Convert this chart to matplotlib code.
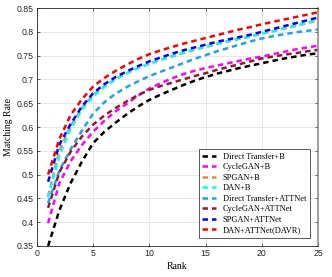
import numpy as np
import matplotlib
matplotlib.use("Agg")
from matplotlib import pyplot as plt

rank = np.arange(1, 26)

direct_b = [0.350, 0.425, 0.482, 0.527, 0.566, 0.590, 0.609, 0.627, 0.643, 0.657,
            0.668, 0.678, 0.688, 0.697, 0.705, 0.712, 0.718, 0.724, 0.729, 0.734,
            0.739, 0.744, 0.748, 0.752, 0.755]
cyclegan_b = [0.398, 0.482, 0.528, 0.562, 0.590, 0.613, 0.633, 0.649, 0.666, 0.681,
              0.692, 0.702, 0.711, 0.718, 0.724, 0.729, 0.734, 0.739, 0.744, 0.748,
              0.753, 0.758, 0.763, 0.767, 0.771]
spgan_b = [0.455, 0.550, 0.602, 0.640, 0.667, 0.686, 0.701, 0.713, 0.724, 0.733,
           0.741, 0.748, 0.755, 0.762, 0.768, 0.774, 0.780, 0.785, 0.790, 0.796,
           0.801, 0.807, 0.812, 0.818, 0.824]
dan_b = [0.452, 0.540, 0.596, 0.636, 0.664, 0.684, 0.700, 0.713, 0.724, 0.733,
         0.741, 0.749, 0.756, 0.763, 0.769, 0.775, 0.781, 0.786, 0.791, 0.797,
         0.802, 0.808, 0.813, 0.819, 0.825]
direct_att = [0.440, 0.508, 0.553, 0.592, 0.628, 0.652, 0.670, 0.684, 0.696, 0.707,
              0.716, 0.725, 0.734, 0.743, 0.751, 0.759, 0.766, 0.773, 0.780, 0.786,
              0.791, 0.795, 0.799, 0.802, 0.805]
cyclegan_att = [0.430, 0.505, 0.548, 0.580, 0.605, 0.624, 0.640, 0.654, 0.667, 0.678,
                0.686, 0.693, 0.700, 0.707, 0.713, 0.720, 0.726, 0.732, 0.738, 0.744,
                0.748, 0.752, 0.755, 0.759, 0.762]
spgan_att = [0.485, 0.563, 0.606, 0.643, 0.671, 0.690, 0.705, 0.717, 0.728, 0.738,
             0.746, 0.754, 0.761, 0.767, 0.773, 0.779, 0.784, 0.789, 0.794, 0.800,
             0.806, 0.812, 0.818, 0.824, 0.830]
davr = [0.500, 0.575, 0.625, 0.658, 0.685, 0.703, 0.718, 0.731, 0.743, 0.753,
        0.761, 0.768, 0.775, 0.781, 0.787, 0.793, 0.799, 0.805, 0.810, 0.816,
        0.821, 0.826, 0.831, 0.836, 0.841]

labels = ["Direct Transfer+B", "CycleGAN+B", "SPGAN+B", "DAN+B",
          "Direct Transfer+ATTNet", "CycleGAN+ATTNet", "SPGAN+ATTNet",
          "DAN+ATTNet(DAVR)"]
series = [direct_b, cyclegan_b, spgan_b, dan_b, direct_att, cyclegan_att,
          spgan_att, davr]
colors = ["#000000", "#ff00ff", "#f5843c", "#00ffff", "#1fa3e8", "#961a2c",
          "#0000ff", "#ff0000"]

fig = plt.figure(figsize=(3.32, 2.77), dpi=100)
ax = fig.add_axes([0.111, 0.112, 0.847, 0.859])

for y, c, lab in zip(series, colors, labels):
    ax.plot(rank, y, color=c, lw=1.8, linestyle=(0, (2.2, 1.6)), label=lab)

ax.set_xlim(0, 25)
ax.set_ylim(0.35, 0.85)
ax.set_xticks(np.arange(0, 26, 5))
ax.set_yticks(np.arange(0.35, 0.851, 0.05))
ax.set_yticklabels(["0.35", "0.4", "0.45", "0.5", "0.55", "0.6", "0.65",
                    "0.7", "0.75", "0.8", "0.85"])
ax.grid(True, color="#e3e3e3", lw=0.6)
ax.set_axisbelow(True)
ax.tick_params(direction="in", length=2.5, width=0.5, labelsize=6.3,
               top=True, right=True, colors="#262626", pad=2)
for lab in ax.get_xticklabels() + ax.get_yticklabels():
    lab.set_family("Liberation Sans")
for s in ax.spines.values():
    s.set_color("#262626")
    s.set_linewidth(0.6)
ax.spines["right"].set_color("#8c8c8c")
ax.spines["right"].set_linewidth(1.2)

ax.set_xlabel("Rank", family="Liberation Serif", fontsize=7, labelpad=3)
ax.set_ylabel("Matching Rate", family="Liberation Serif", fontsize=7, labelpad=3)

leg = ax.legend(loc="lower right", bbox_to_anchor=(0.97, 0.035),
                prop={"family": "Liberation Serif", "size": 6.0},
                fancybox=False, framealpha=1, edgecolor="#404040",
                handlelength=1.7, labelspacing=0.3, borderpad=0.4,
                handletextpad=0.8, borderaxespad=0)
leg.get_frame().set_linewidth(0.6)

plt.savefig("out.png", dpi=100)
